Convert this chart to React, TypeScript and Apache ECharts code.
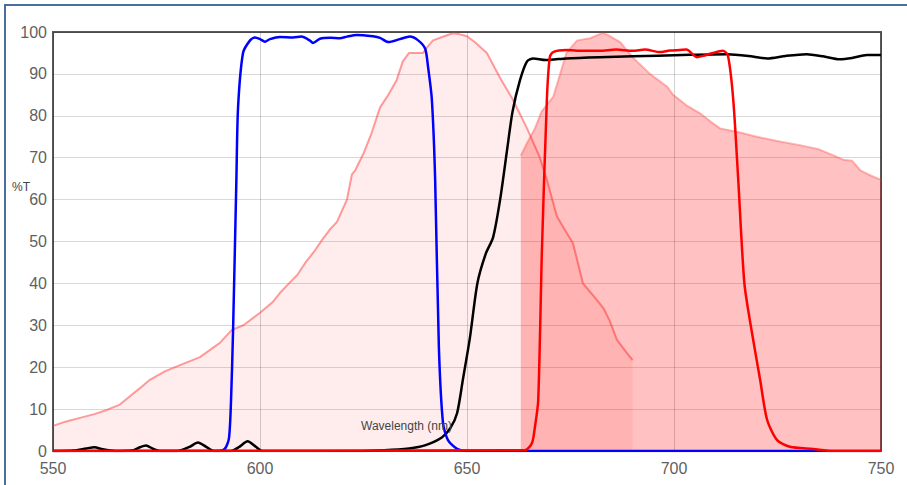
import React, { useEffect, useRef } from "react";
import * as echarts from "echarts";

const xTicks = [550, 600, 650, 700, 750];
const yTicks = [0, 10, 20, 30, 40, 50, 60, 70, 80, 90, 100];

const excitationX = [550, 553, 556.5, 560, 563, 566, 568, 571, 573.4, 577, 580.7, 585.5, 590.3, 593.2, 596, 600, 603, 604.8, 607, 609, 611, 613, 615, 617, 618.6, 621, 622.2, 623, 625, 627, 629, 631, 633, 634.5, 636, 639.4, 640.5, 641.8, 644, 646.6, 648, 650, 652, 654.8, 658, 661, 664.5, 667.6, 669.3, 671.7, 673.5, 675.6, 678, 681.4, 683, 684.5, 686.2, 688.6, 690];
const excitationY = [6, 7, 7.9, 8.8, 9.8, 11, 12.6, 15, 17, 19, 20.5, 22.4, 25.8, 28.9, 30, 33, 35.5, 37.7, 40, 42, 45, 47.5, 50.4, 53, 54.7, 60, 66, 67, 71, 76, 82, 85, 88.5, 93, 95, 95, 96.5, 98, 98.8, 99.7, 99.5, 99, 97.5, 95, 89, 84, 77, 70, 64.7, 56, 53, 49.6, 40, 36, 34, 31, 26.5, 23.4, 21.7];

const emissionX = [663, 664.5, 666.4, 668, 670.8, 672.5, 674, 676.6, 679.7, 682.8, 684, 687, 690, 694.2, 698.3, 699.8, 703, 706.3, 709, 711.1, 716, 720, 724.9, 730.4, 735, 738.4, 741, 743, 745, 747, 750];
const emissionY = [70.5, 73.5, 77, 81, 84.5, 90, 95, 98, 98.5, 99.8, 99.3, 97.6, 94, 90, 87, 85, 82.5, 80.6, 78.5, 77, 76, 75, 74, 73, 72, 70.6, 69.5, 69.3, 67, 66, 64.7];

const dichroicX = [550, 555, 558, 560, 562, 565, 569, 571, 572.5, 574, 576, 580, 583, 585, 587, 589, 593, 595, 597, 599, 600.5, 605, 620, 630, 636, 640, 644, 646, 647.6, 649, 650.7, 652.5, 654.5, 656.3, 658, 659.7, 661, 662.8, 664.5, 666, 669, 674, 682, 690, 702, 712.8, 718, 722.5, 727, 732, 736, 740, 743, 746.6, 750];
const dichroicY = [0, 0.1, 0.6, 0.9, 0.4, 0, 0.1, 0.9, 1.3, 0.6, 0, 0, 1, 2, 1, 0, 0, 1, 2.3, 1, 0, 0, 0, 0.2, 0.6, 1.4, 3.3, 5.5, 9, 17, 27, 40, 47, 51, 60, 72, 81, 88.5, 93, 93.7, 93.3, 93.7, 94, 94.2, 94.5, 94.7, 94.3, 93.7, 94.3, 94.7, 94.2, 93.5, 93.8, 94.5, 94.5];

const exFilterX = [550, 590, 591.5, 592.5, 593, 593.5, 594.3, 594.7, 595.9, 597.6, 598.8, 600, 601.2, 602.4, 604.8, 608, 610, 612, 612.8, 614.5, 617, 619.3, 621, 623.4, 625, 627.3, 629, 631, 633.8, 636.2, 638.2, 639.9, 640.6, 641.5, 642.3, 643.2, 644.2, 645.4, 647.6, 650, 750];
const exFilterY = [0, 0, 0.5, 3, 12, 29, 65, 82, 95, 98, 98.7, 98.3, 97.7, 98.3, 98.8, 98.7, 98.9, 98, 97.4, 98.4, 98.6, 98.5, 98.9, 99.3, 99.2, 99, 98.6, 97.6, 98.3, 98.9, 98, 96, 91.6, 84, 65, 25, 6.7, 2.6, 0.5, 0, 0];

const emFilterX = [550, 664, 665.7, 666.4, 667.2, 668.1, 669.3, 670, 670.8, 674, 678, 682, 686, 690, 693, 696.6, 699, 701.4, 703, 705.5, 707, 709.4, 711.8, 713, 714.3, 715.5, 717, 718.7, 720.8, 722.5, 724.9, 728, 733.6, 738.4, 750];
const emFilterY = [0, 0.2, 1.9, 5.7, 12, 48, 84, 94, 95.2, 95.7, 95.5, 95.5, 95.8, 95.5, 95.8, 95.2, 95.6, 95.7, 95.8, 94, 94.3, 95, 95.5, 94.5, 84, 65, 40, 29, 17, 7.4, 2.6, 1, 0.5, 0, 0];

const zip = (xs: number[], ys: number[]) => xs.map((x, i) => [x, ys[i]]);

export default function App() {
  const ref = useRef<HTMLDivElement>(null);
  useEffect(() => {
    if (!ref.current) return;
    const chart = echarts.init(ref.current, undefined, { renderer: "svg" });
    const labelStyle = { color: "#5f5f5f", fontSize: 16, fontFamily: "Liberation Sans, Arial, sans-serif" };
    const filterLine = (name: string, data: number[][], color: string, z: number) => ({
      name,
      type: "line",
      data,
      showSymbol: false,
      smooth: 0.25,
      lineStyle: { color, width: 2.5 },
      z,
    });
    chart.setOption({
      animation: false,
      grid: { left: 53, right: 26, top: 32, bottom: 34, show: true, borderColor: "#5a5a5a", borderWidth: 2, backgroundColor: "transparent" },
      xAxis: {
        type: "value",
        min: 550,
        max: 750,
        interval: 50,
        axisLine: { show: false },
        axisTick: { show: false },
        axisLabel: { ...labelStyle, margin: 9, customValues: xTicks },
        splitLine: { show: true, lineStyle: { color: "rgba(0,0,0,0.18)", width: 1 } },
      },
      yAxis: {
        type: "value",
        min: 0,
        max: 100,
        interval: 10,
        axisLine: { show: false },
        axisTick: { show: false },
        axisLabel: { ...labelStyle, margin: 6, customValues: yTicks },
        splitLine: { show: true, lineStyle: { color: "rgba(0,0,0,0.15)", width: 1 } },
      },
      graphic: [
        { type: "rect", shape: { x: 5, y: 5, width: 1200, height: 1200 }, style: { fill: "none", stroke: "#4a6e9e", lineWidth: 2 }, silent: true },
        { type: "text", x: 12, y: 181, style: { text: "%T", fill: "#444", font: "12px Liberation Sans, Arial, sans-serif" }, silent: true, z: 100 },
        { type: "text", x: 361, y: 420, style: { text: "Wavelength (nm)", fill: "#444", font: "12px Liberation Sans, Arial, sans-serif" }, silent: true, z: 100 },
      ],
      series: [
        {
          name: "Excitation",
          type: "line",
          data: zip(excitationX, excitationY),
          showSymbol: false,
          lineStyle: { color: "rgba(255,60,60,0.5)", width: 2 },
          areaStyle: { color: "rgba(255,0,0,0.1)", origin: "start" },
          z: 1,
        },
        {
          name: "Emission",
          type: "line",
          data: zip(emissionX, emissionY),
          showSymbol: false,
          lineStyle: { color: "rgba(255,60,60,0.35)", width: 2 },
          areaStyle: { color: "rgba(255,0,0,0.35)", origin: "start" },
          z: 2,
        },
        filterLine("Dichroic", zip(dichroicX, dichroicY), "#000000", 3),
        filterLine("Excitation filter", zip(exFilterX, exFilterY), "#0000ff", 4),
        filterLine("Emission filter", zip(emFilterX, emFilterY), "#ff0000", 5),
      ],
    });
    return () => chart.dispose();
  }, []);
  return <div ref={ref} style={{ position: "fixed", left: 0, top: 0, width: 907, height: 485, background: "#fff" }} />;
}
